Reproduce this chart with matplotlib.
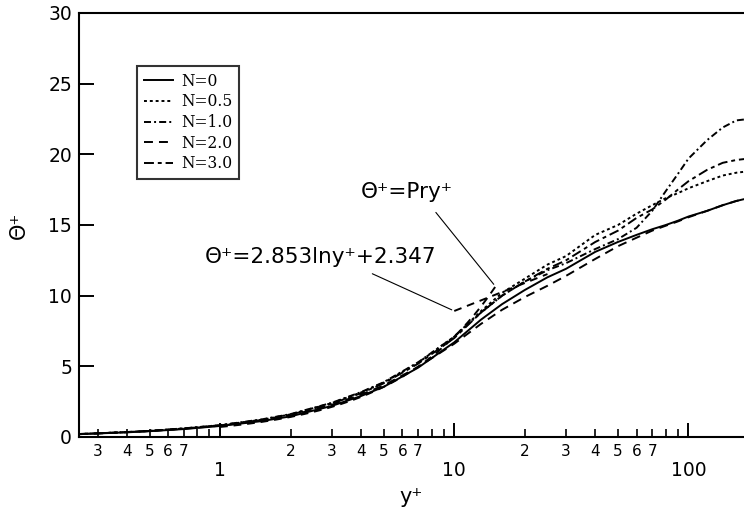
import matplotlib
matplotlib.use('Agg')
import matplotlib.pyplot as plt
import matplotlib.ticker as mticker
import numpy as np

# wall distance y+ where the profiles are sampled
yplus = [0.25, 0.3, 0.4, 0.5, 0.7, 1, 1.5, 2, 3, 4, 5, 7, 10, 13, 16, 20,
         25, 30, 40, 50, 60, 70, 80, 90, 100, 120, 140, 160, 180]

# mean temperature profiles Theta+ for each N
theta_n0 = [0.20, 0.25, 0.33, 0.41, 0.56, 0.78, 1.12, 1.46, 2.20, 2.90, 3.55, 4.90, 6.70, 8.30, 9.40,
            10.40, 11.30, 11.90, 13.10, 13.80, 14.30, 14.70, 15.00, 15.30, 15.60, 16.00, 16.40, 16.70, 16.90]
theta_n05 = [0.21, 0.26, 0.35, 0.43, 0.60, 0.83, 1.22, 1.60, 2.40, 3.15, 3.85, 5.25, 7.10, 8.90, 10.20,
             11.20, 12.20, 12.80, 14.30, 15.00, 15.80, 16.40, 16.90, 17.25, 17.60, 18.10, 18.50, 18.70, 18.80]
theta_n1 = [0.21, 0.26, 0.35, 0.44, 0.61, 0.84, 1.24, 1.62, 2.42, 3.18, 3.88, 5.28, 7.10, 8.80, 10.00,
            11.00, 11.80, 12.30, 13.30, 14.00, 14.80, 16.00, 17.40, 18.60, 19.70, 21.00, 21.90, 22.40, 22.50]
theta_n2 = [0.20, 0.25, 0.34, 0.42, 0.58, 0.80, 1.16, 1.52, 2.28, 3.00, 3.65, 4.95, 6.60, 8.00, 9.00,
            9.90, 10.70, 11.40, 12.60, 13.50, 14.10, 14.60, 14.95, 15.25, 15.55, 16.00, 16.40, 16.70, 16.90]
theta_n3 = [0.21, 0.26, 0.35, 0.43, 0.60, 0.82, 1.20, 1.58, 2.36, 3.10, 3.80, 5.18, 7.00, 8.80, 10.00,
            11.00, 11.90, 12.50, 13.80, 14.60, 15.50, 16.10, 16.80, 17.50, 18.10, 18.90, 19.40, 19.60, 19.70]

labels = ['N=0', 'N=0.5', 'N=1.0', 'N=2.0', 'N=3.0']

# reference laws
pr = 0.71
loglaw_a, loglaw_b = 2.853, 2.347
yplus_cond = np.geomspace(1, 15, 40)
yplus_log = np.array([10, 25])

styles = ['-', (0, (1.5, 1.5)), (0, (3.6, 1.6, 1.0, 1.6)), (0, (4.6, 3.1)), (0, (5.1, 2.0, 2.0, 2.0))]
lw = 1.4

fig = plt.figure(figsize=(7.44, 5.12), dpi=100)
ax = fig.add_axes([79 / 744, 75 / 512, 680 / 744, 424 / 512])

for theta, ls, lab in zip([theta_n0, theta_n05, theta_n1, theta_n2, theta_n3], styles, labels):
    ax.plot(yplus, theta, color='black', linestyle=ls, linewidth=lw, label=lab)

ax.plot(yplus_cond, pr * yplus_cond, color='black', linestyle=(0, (4.0, 3.0)), linewidth=lw)
ax.plot(yplus_log, loglaw_a * np.log(yplus_log) + loglaw_b, color='black',
        linestyle=(0, (4.0, 3.0)), linewidth=lw)

ax.set_xscale('log')
ax.set_xlim(0.25, 200)
ax.set_ylim(0, 30)

for side in ['left', 'bottom', 'top', 'right']:
    ax.spines[side].set_linewidth(1.5)

# x axis: labelled decades, minor digits 2..7 labelled
ax.xaxis.set_major_locator(mticker.FixedLocator([1, 10, 100]))
ax.xaxis.set_major_formatter(mticker.FixedFormatter(['1', '10', '100']))
minor_pos = [d * 10.0 ** e for e in (-1, 0, 1, 2) for d in range(2, 10)]
minor_pos = [m for m in minor_pos if 0.25 < m < 200]
ax.xaxis.set_minor_locator(mticker.FixedLocator(minor_pos))


def minor_label(v, pos):
    d = int(round(v / 10 ** np.floor(np.log10(v) + 1e-9)))
    return str(d) if 2 <= d <= 7 else ''


ax.xaxis.set_minor_formatter(mticker.FuncFormatter(minor_label))
ax.set_yticks([0, 5, 10, 15, 20, 25, 30])

ax.tick_params(axis='x', which='major', direction='in', length=10, width=1.4,
               pad=17, labelsize=13.5, top=False)
ax.tick_params(axis='x', which='minor', direction='in', length=5.8, width=1.2,
               pad=5, labelsize=11, top=False)
ax.tick_params(axis='y', which='major', direction='in', length=10.8, width=1.4,
               pad=5, labelsize=13.5, right=False)

ax.set_xlabel('y\u207a', fontsize=15)
ax.xaxis.set_label_coords(0.488, -0.118)
ax.set_ylabel('\u0398\u207a', fontsize=15)
ax.yaxis.set_label_coords(-0.073, 0.5)

ax.annotate('\u0398\u207a=Pry\u207a', xy=(15, pr * 15), xytext=(6.3, 17.33),
            ha='center', va='center', fontsize=15.5,
            arrowprops=dict(arrowstyle='-', color='black', lw=0.8,
                            relpos=(0.72, 0.0), shrinkA=7, shrinkB=2))
ax.annotate('\u0398\u207a=2.853lny\u207a+2.347', xy=(10, loglaw_a * np.log(10) + loglaw_b),
            xytext=(2.68, 12.74), ha='center', va='center', fontsize=15.5,
            arrowprops=dict(arrowstyle='-', color='black', lw=0.8,
                            relpos=(0.66, 0.0), shrinkA=7, shrinkB=2))

leg = ax.legend(loc='upper left', bbox_to_anchor=(58 / 680, 1 - 53 / 424), borderaxespad=0,
                prop={'family': 'DejaVu Serif', 'size': 11.2}, frameon=True, fancybox=False,
                handlelength=1.9, handletextpad=0.5, labelspacing=0.24, borderpad=0.42)
leg.get_frame().set_edgecolor('black')
leg.get_frame().set_linewidth(1.5)

fig.savefig('out.png', dpi=100)
